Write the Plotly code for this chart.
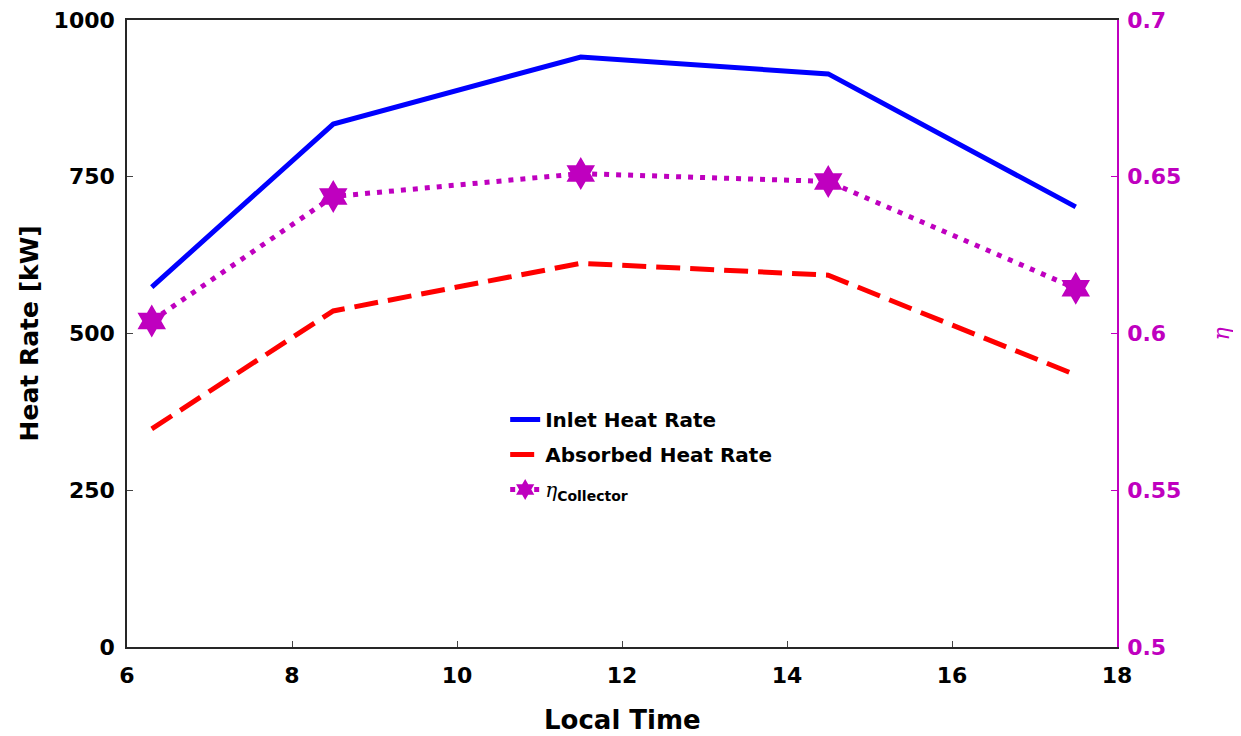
import plotly.graph_objects as go

time = [6.3, 8.5, 11.5, 14.5, 17.5]
inlet_heat = [574, 834, 941, 914, 702]
absorbed_heat = [348, 536, 612, 593, 434]
eta_collector = [0.604, 0.6437, 0.651, 0.6485, 0.6144]

MAG = "#BF00BF"
FONT = "DejaVu Sans, Liberation Sans, Arial, sans-serif"

fig = go.Figure()
fig.add_trace(go.Scatter(x=time, y=inlet_heat, mode="lines", name="<b>Inlet Heat Rate</b>",
                         legendgroup="a",
                         line=dict(color="#0000FF", width=5)))
fig.add_trace(go.Scatter(x=time, y=absorbed_heat, mode="lines", name="<b>Absorbed Heat Rate</b>",
                         legendgroup="b",
                         line=dict(color="#FF0000", width=5, dash="24px,10px")))
fig.add_trace(go.Scatter(x=time, y=eta_collector, mode="lines+markers", yaxis="y2",
                         legendgroup="c",
                         name="<span style='font-family:DejaVu Serif;font-style:italic;font-weight:normal'>η</span><sub><b>Collector</b></sub>",
                         line=dict(color=MAG, width=5, dash="5px,7px"),
                         marker=dict(symbol="hexagram", size=25, color=MAG, line=dict(width=0))))

fig.update_layout(
    width=1241, height=736,
    margin=dict(l=119, r=132, t=12, b=97, autoexpand=False),
    plot_bgcolor="white", paper_bgcolor="white",
    font=dict(family=FONT, size=20, color="black"),
    showlegend=True,
    legend=dict(x=0.382, y=0.394, xanchor="left", yanchor="top", bgcolor="rgba(0,0,0,0)",
                font=dict(size=20, color="black", family=FONT), tracegroupgap=6),
    xaxis=dict(range=[6, 18], tickvals=[6, 8, 10, 12, 14, 16, 18], automargin=False,
               tickfont=dict(size=22, family=FONT, weight="bold"), ticks="inside", ticklen=6,
               ticklabelstandoff=8,
               showline=True, linecolor="#262626", linewidth=1.5, mirror=True,
               showgrid=False, zeroline=False, ticklabeloverflow="allow"),
    yaxis=dict(range=[0, 1000], tickvals=[0, 250, 500, 750, 1000], automargin=False,
               tickfont=dict(size=22, family=FONT, weight="bold"), ticklabeloverflow="allow",
               ticklabelstandoff=6,
               ticks="inside", ticklen=6, showline=True, linecolor="#262626", linewidth=1.5,
               showgrid=False, zeroline=False),
    yaxis2=dict(range=[0.5, 0.7], tickvals=[0.5, 0.55, 0.6, 0.65, 0.7], automargin=False,
                ticktext=["0.5", "0.55", "0.6", "0.65", "0.7"], ticklabeloverflow="allow",
                ticklabelstandoff=4,
                overlaying="y", side="right", ticks="inside", ticklen=6,
                showline=True, linecolor=MAG, linewidth=1.5, tickcolor=MAG,
                tickfont=dict(color=MAG, size=22, family=FONT, weight="bold"),
                showgrid=False, zeroline=False),
    annotations=[
        dict(text="<b>Local Time</b>", xref="paper", yref="paper", x=0.5, y=-0.1164,
             xanchor="center", yanchor="middle", showarrow=False,
             font=dict(size=26, color="black", family=FONT)),
        dict(text="<b>Heat Rate [kW]</b>", xref="paper", yref="paper", x=-0.098, y=0.5,
             xanchor="center", yanchor="middle", textangle=-90, showarrow=False,
             font=dict(size=25, color="black", family=FONT)),
        dict(text="<i>η</i>", xref="paper", yref="paper", x=1.106, y=0.5,
             xanchor="center", yanchor="middle", textangle=-90, showarrow=False,
             font=dict(size=22, color=MAG, family="DejaVu Serif")),
    ],
)

fig.write_html("out.html")
